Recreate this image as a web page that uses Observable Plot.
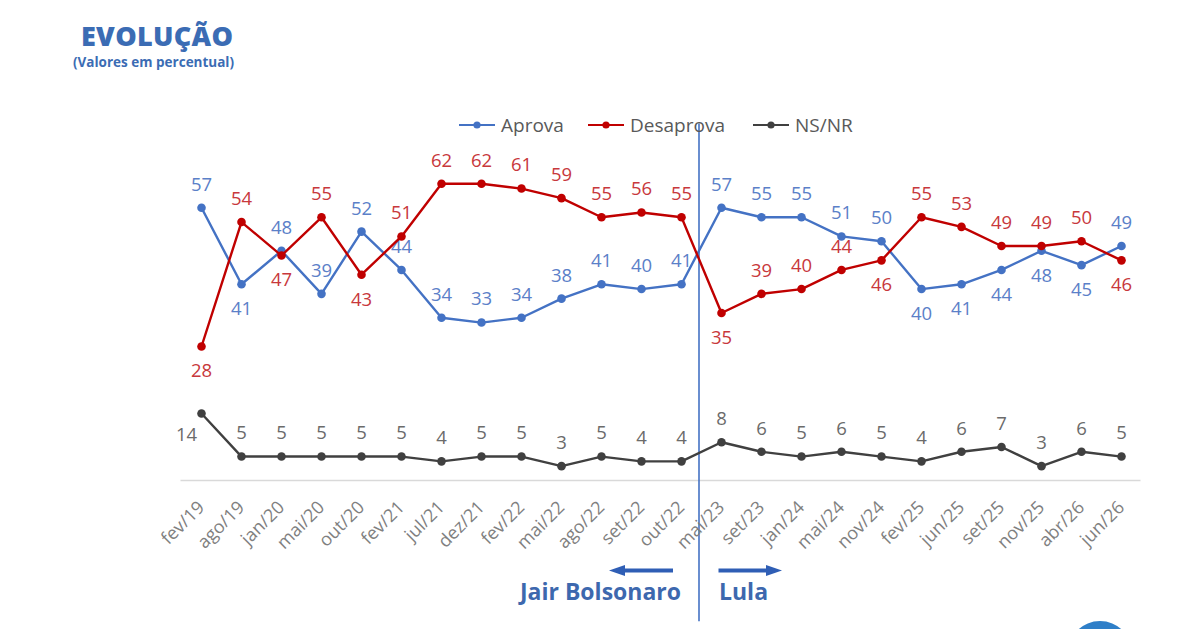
<!DOCTYPE html>
<html><head><meta charset="utf-8">
<script src="https://cdn.jsdelivr.net/npm/d3@7"></script>
<script src="https://cdn.jsdelivr.net/npm/@observablehq/plot@0.6"></script>
<style>
body{margin:0;background:#fff;font-family:"Open Sans",sans-serif}
#wrap{position:relative;width:1200px;height:629px;overflow:hidden;background:#fff}
#title{position:absolute;left:81px;top:17px;font-size:27px;font-weight:800;color:#3b6cb4;letter-spacing:0.3px}
#sub{position:absolute;left:73px;top:53px;font-size:13.5px;font-weight:700;color:#3b6cb4}
#chart{position:absolute;left:0;top:0}
.leg{position:absolute;top:112px;display:flex;align-items:center;font-size:19px;color:#595959}
.leg svg{margin-right:6px}
#logo{position:absolute;left:1068px;top:621px;width:64px;height:64px;border-radius:50%;background:#2f7fc8}
</style></head><body>
<div id="wrap">
 <div id="title">EVOLUÇÃO</div>
 <div id="sub">(Valores em percentual)</div>
 <div id="chart"></div>
 <div id="logo"></div>
</div>
<script>
const periods = ["fev/19","ago/19","jan/20","mai/20","out/20","fev/21","jul/21","dez/21","fev/22","mai/22","ago/22","set/22","out/22","mai/23","set/23","jan/24","mai/24","nov/24","fev/25","jun/25","set/25","nov/25","abr/26","jun/26"];
const aprova    = [57,41,48,39,52,44,34,33,34,38,41,40,41,57,55,55,51,50,40,41,44,48,45,49];
const desaprova = [28,54,47,55,43,51,62,62,61,59,55,56,55,35,39,40,44,46,55,53,49,49,50,46];
const nsnr      = [14,5,5,5,5,5,4,5,5,3,5,4,4,8,6,5,6,5,4,6,7,3,6,5];
// label placement: a = above, b = below, l = left
const aprovaSide    = ["a","b","a","a","a","a","a","a","a","a","a","a","a","a","a","a","a","a","b","b","b","b","b","a"];
const desaprovaSide = ["b","a","b","a","b","a","a","a","a","a","a","a","a","b","a","a","a","b","a","a","a","a","a","b"];
const nsnrSide      = ["l","a","a","a","a","a","a","a","a","a","a","a","a","a","a","a","a","a","a","a","a","a","a","a"];
const seriesNames = ["Aprova","Desaprova","NS/NR"];
const govLabels = ["Jair Bolsonaro","Lula"];

const series = [
  {name:seriesNames[0], values:aprova, side:aprovaSide, line:"#4472c4", label:"#5b80c8"},
  {name:seriesNames[1], values:desaprova, side:desaprovaSide, line:"#c00000", label:"#c8383c"},
  {name:seriesNames[2], values:nsnr, side:nsnrSide, line:"#404040", label:"#6b6b6b"}
];

const wrap = document.getElementById("wrap");
const legendLeft = [459, 588, 753];
series.forEach((s, k) => {
  const d = document.createElement("div");
  d.className = "leg";
  d.style.left = legendLeft[k] + "px";
  d.innerHTML = `<svg width="36" height="10"><line x1="0" y1="5" x2="36" y2="5" stroke="${s.line}" stroke-width="2.2"/><circle cx="18" cy="5" r="3.6" fill="${s.line}"/></svg>${s.name}`;
  wrap.appendChild(d);
});

const marks = [];
marks.push(Plot.ruleY([0], {stroke:"#d9d9d9", strokeWidth:1.5, insetLeft:-20, insetRight:-20}));
marks.push(Plot.ruleX([periods[12]], {x:d => d, dx:17.5, y1:74.5, y2:-29.5, stroke:"#4472c4", strokeWidth:1.6}));

series.forEach(s => {
  const rows = periods.map((p, i) => ({period:p, value:s.values[i], side:s.side[i]}));
  marks.push(Plot.line(rows, {x:"period", y:"value", stroke:s.line, strokeWidth:2.4}));
  marks.push(Plot.dot(rows, {x:"period", y:"value", fill:s.line, r:4.3}));
  const common = {x:"period", y:"value", text:d => String(d.value), fill:s.label, fontSize:18.5};
  marks.push(Plot.text(rows.filter(d => d.side === "a"), {...common, dy:-23}));
  marks.push(Plot.text(rows.filter(d => d.side === "b"), {...common, dy:25}));
  marks.push(Plot.text(rows.filter(d => d.side === "l"), {...common, dx:-15, dy:22}));
});

// x tick labels
marks.push(Plot.text(periods, {x:d => d, y:0, text:d => d, rotate:-45, textAnchor:"end", lineAnchor:"middle", dx:0, dy:24, fontSize:18, fill:"#808080"}));

// government arrows
const headLeft = {draw(ctx, size){ const r = Math.sqrt(size/Math.PI)/8; ctx.moveTo(-8*r,0); ctx.lineTo(8*r,-5.5*r); ctx.lineTo(8*r,5.5*r); ctx.closePath(); }};
const headRight = {draw(ctx, size){ const r = Math.sqrt(size/Math.PI)/8; ctx.moveTo(8*r,0); ctx.lineTo(-8*r,-5.5*r); ctx.lineTo(-8*r,5.5*r); ctx.closePath(); }};
const arrowY = -18.8;
const blue = "#2f5eb5";
marks.push(Plot.ruleY([arrowY], {y:d => d, x1:() => periods[10], x2:() => periods[12], insetLeft:18, insetRight:8, stroke:blue, strokeWidth:4}));
marks.push(Plot.dot([periods[10]], {x:d => d, y:() => arrowY, dx:15.5, symbol:headLeft, r:8, fill:blue, stroke:"none"}));
marks.push(Plot.ruleY([arrowY], {y:d => d, x1:() => periods[13], x2:() => periods[15], insetLeft:-2.5, insetRight:28, stroke:blue, strokeWidth:4}));
marks.push(Plot.dot([periods[14]], {x:d => d, y:() => arrowY, dx:12.5, symbol:headRight, r:8, fill:blue, stroke:"none"}));
marks.push(Plot.text([govLabels[0]], {x:() => periods[12], y:() => -23.5, text:d => d, dx:-0.5, textAnchor:"end", fontSize:23, fontWeight:700, fill:"#3d68ae"}));
marks.push(Plot.text([govLabels[1]], {x:() => periods[13], y:() => -23.5, text:d => d, dx:-2.5, textAnchor:"start", fontSize:23, fontWeight:700, fill:"#3d68ae"}));

const chart = Plot.plot({
  width:1200, height:629,
  marginLeft:200.5, marginRight:79.5, marginTop:145, marginBottom:149,
  x:{type:"point", domain:periods, padding:0, axis:null},
  y:{domain:[0,70], axis:null},
  style:{fontFamily:"Open Sans, sans-serif", background:"transparent", overflow:"visible"},
  marks
});
document.getElementById("chart").appendChild(chart);
</script>
</body></html>
